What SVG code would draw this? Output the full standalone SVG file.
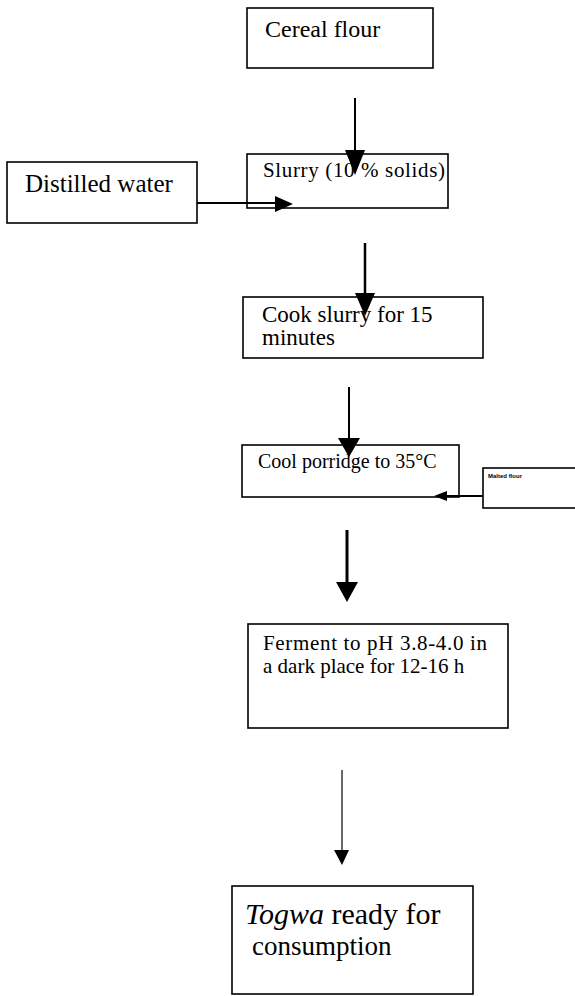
<svg xmlns="http://www.w3.org/2000/svg" width="575" height="996" viewBox="0 0 575 996">
<style>
.box{fill:#fff;stroke:#000;stroke-width:1.6}
.t{font-family:"Liberation Serif","Times New Roman",serif;fill:#000}
.ln{stroke:#000;fill:none}
.ah{fill:#000;stroke:none}
</style>
<rect width="575" height="996" fill="#fff"/>
<g id="cereal-flour">
<rect class="box" x="247" y="8" width="186" height="60"/>
<text class="t" x="265" y="37" font-size="24">Cereal flour</text>
</g>
<g id="distilled-water">
<rect class="box" x="7" y="162" width="190" height="61"/>
<text class="t" x="25" y="192" font-size="25">Distilled water</text>
</g>
<g id="slurry">
<rect class="box" x="247" y="154" width="201" height="54"/>
<text class="t" x="263" y="177" font-size="21" textLength="182">Slurry (10 % solids)</text>
</g>
<g id="cook">
<rect class="box" x="243" y="297" width="240" height="61"/>
<text class="t" x="262" y="322" font-size="23">Cook slurry for 15</text>
<text class="t" x="262" y="345" font-size="23">minutes</text>
</g>
<g id="cool">
<rect class="box" x="242" y="445" width="217" height="52"/>
<text class="t" x="258" y="468" font-size="20">Cool porridge to 35°C</text>
</g>
<g id="malted-flour">
<rect class="box" x="483" y="468" width="100" height="40"/>
<text class="t" x="488" y="478" font-size="6" font-weight="bold" style="font-family:'Liberation Sans',Arial,sans-serif">Malted flour</text>
</g>
<g id="ferment">
<rect class="box" x="248" y="624" width="260" height="104"/>
<text class="t" x="263" y="650" font-size="21" textLength="224">Ferment to pH 3.8-4.0 in</text>
<text class="t" x="263" y="673" font-size="21">a dark place for 12-16 h</text>
</g>
<g id="togwa">
<rect class="box" x="232" y="886" width="241" height="108"/>
<text class="t" x="245" y="924" font-size="30"><tspan font-style="italic">Togwa</tspan> ready for</text>
<text class="t" x="252" y="955" font-size="27">consumption</text>
</g>
<g id="connectors">
<line class="ln" x1="355" y1="98" x2="355" y2="152" stroke-width="2"/>
<polygon class="ah" points="345,150 365,150 355,175"/>
<line class="ln" x1="197" y1="203" x2="277" y2="203" stroke-width="2"/>
<polygon class="ah" points="275,196 293,204 275,212"/>
<line class="ln" x1="365" y1="243" x2="365" y2="295" stroke-width="2.5"/>
<polygon class="ah" points="355,293 375,293 365,316"/>
<line class="ln" x1="349" y1="387" x2="349" y2="440" stroke-width="2"/>
<polygon class="ah" points="338,438 360,438 349,457"/>
<line class="ln" x1="483" y1="496" x2="445" y2="496" stroke-width="2"/>
<polygon class="ah" points="447,491 447,501 434,496"/>
<line class="ln" x1="347" y1="530" x2="347" y2="584" stroke-width="3"/>
<polygon class="ah" points="336,582 358,582 347,602"/>
<line class="ln" x1="342" y1="770" x2="342" y2="852" stroke-width="1.2"/>
<polygon class="ah" points="334,850 349,850 342,865"/>
</g>
</svg>
